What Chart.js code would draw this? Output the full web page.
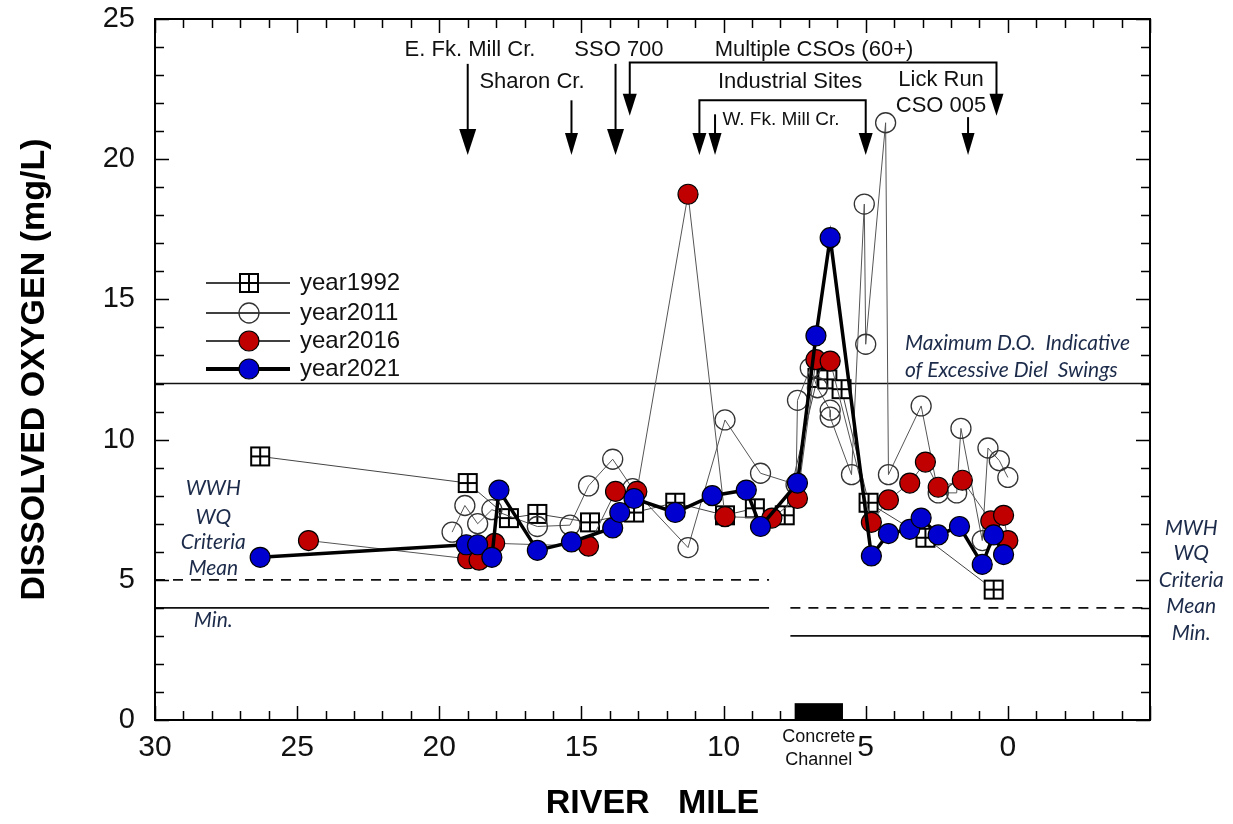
<!DOCTYPE html>
<html>
<head>
<meta charset="utf-8">
<script src="https://cdn.jsdelivr.net/npm/chart.js@4.4.0/dist/chart.umd.min.js"></script>
<style>
  html, body { margin: 0; padding: 0; background: #fff; }
  #wrap { width: 1233px; height: 824px; }
</style>
</head>
<body>
<div id="wrap"><canvas id="myChart" width="1233" height="824"></canvas></div>
<script>
// Pomiary tlenu rozpuszczonego wzdłuż rzeki (mila rzeczna, mg/L) dla każdego roku
const mile1992 = [26.3, 19.0, 17.55, 16.55, 14.7, 13.15, 11.7, 9.95, 8.9, 7.85, 6.7, 6.35, 5.85, 4.9, 2.9, 0.5];
const do1992   = [9.4, 8.45, 7.2, 7.35, 7.05, 7.4, 7.75, 7.3, 7.55, 7.3, 12.2, 12.15, 11.8, 7.75, 6.5, 4.65];

const mile2011 = [19.55, 19.1, 18.65, 18.15, 16.55, 15.4, 14.75, 13.9, 13.2, 11.25, 9.95, 8.7, 7.45, 7.4, 6.95, 6.7, 6.25, 6.25, 5.5, 5.05, 5.0, 4.3, 4.2, 3.05, 2.45, 1.8, 1.65, 0.9, 0.7, 0.3, 0.0];
const do2011   = [6.7, 7.65, 7.0, 7.5, 6.9, 6.95, 8.35, 9.3, 8.25, 6.15, 10.7, 8.8, 8.4, 11.4, 12.55, 11.85, 11.05, 10.8, 8.75, 18.4, 13.4, 21.3, 8.75, 11.2, 8.1, 8.1, 10.4, 6.4, 9.7, 9.25, 8.65];

const mile2016 = [24.6, 19.0, 18.6, 18.05, 14.75, 13.8, 13.05, 11.25, 9.95, 8.3, 7.4, 6.75, 6.25, 4.8, 4.2, 3.45, 2.9, 2.45, 1.6, 0.6, 0.15, 0.0];
const do2016   = [6.4, 5.75, 5.7, 6.3, 6.2, 8.15, 8.15, 18.75, 7.25, 7.2, 7.9, 12.85, 12.8, 7.05, 7.85, 8.45, 9.2, 8.3, 8.55, 7.1, 7.3, 6.4];

const mile2021 = [26.3, 19.05, 18.65, 18.15, 17.9, 16.55, 15.35, 13.9, 13.65, 13.15, 11.7, 10.4, 9.2, 8.7, 7.4, 6.75, 6.25, 4.8, 4.2, 3.45, 3.05, 2.45, 1.7, 0.9, 0.5, 0.15];
const do2021   = [5.8, 6.25, 6.25, 5.8, 8.2, 6.05, 6.35, 6.85, 7.4, 7.9, 7.4, 8.0, 8.2, 6.9, 8.45, 13.7, 17.2, 5.85, 6.65, 6.8, 7.2, 6.6, 6.9, 5.55, 6.6, 5.9];

// Zakresy osi
const xMin = -5, xMax = 30;
const yMin = 0, yMax = 25;

// Kryteria jakości wody (mg/L) i odcinki rzeki, których dotyczą
const maxDielDO = 12;
const wwhMeanDO = 5, wwhMinDO = 4;
const mwhMeanDO = 4, mwhMinDO = 3;
const wwhReach = [30, 8.4];
const mwhReach = [7.65, -5];

// Betonowy kanał (mile) i wysokość znacznika
const channelMiles = [7.5, 5.8];
const channelHeight = 0.6;

function toPoints(miles, values) {
    return miles.map((m, i) => ({ x: m, y: values[i] }));
}

// Kwadrat z krzyżykiem dla roku 1992
function makeCrossSquare() {
    const c = document.createElement('canvas');
    c.width = 22; c.height = 22;
    const g = c.getContext('2d');
    g.fillStyle = '#fff';
    g.fillRect(2, 2, 18, 18);
    g.strokeStyle = '#000';
    g.lineWidth = 2;
    g.strokeRect(2, 2, 18, 18);
    g.beginPath();
    g.moveTo(11, 2); g.lineTo(11, 20);
    g.moveTo(2, 11); g.lineTo(20, 11);
    g.stroke();
    return c;
}
const crossSquare = makeCrossSquare();

const textColor = '#111';
const noteColor = '#1c2b4a';
const noteFont = 'italic 21px Lato, "Liberation Sans", sans-serif';

// Dopływy i źródła zanieczyszczeń (strzałki nad wykresem)
const arrows = [
    { mile: 19.0, top: 23.4, tip: 20.15, big: true },
    { mile: 15.35, top: 22.1, tip: 20.15 },
    { mile: 13.8, top: 23.4, tip: 20.15, big: true },
    { mile: 10.3, top: 21.6, tip: 20.15 },
    { mile: 1.4, top: 21.5, tip: 20.15 }
];
const brackets = [
    { from: 13.3, to: 0.4, bar: 23.45, tip: 21.55 },
    { from: 10.85, to: 5.0, bar: 22.1, tip: 20.15 }
];
const siteLabels = [
    { text: 'E. Fk. Mill Cr.', mile: 18.92, y: 23.9, size: 22 },
    { text: 'SSO 700', mile: 13.68, y: 23.9, size: 22 },
    { text: 'Multiple CSOs (60+)', mile: 6.82, y: 23.9, size: 22 },
    { text: 'Sharon Cr.', mile: 16.74, y: 22.75, size: 22 },
    { text: 'Industrial Sites', mile: 7.66, y: 22.75, size: 22 },
    { text: 'Lick Run', mile: 2.35, y: 22.82, size: 22 },
    { text: 'CSO 005', mile: 2.35, y: 21.9, size: 22 },
    { text: 'W. Fk. Mill Cr.', mile: 7.98, y: 21.4, size: 19 }
];
const criteriaNotes = [
    { text: 'WWH', mile: 27.95, y: 8.27 },
    { text: 'WQ', mile: 27.95, y: 7.24 },
    { text: 'Criteria', mile: 27.95, y: 6.35 },
    { text: 'Mean', mile: 27.95, y: 5.42 },
    { text: 'Min.', mile: 27.95, y: 3.57 },
    { text: 'MWH', mile: -6.45, y: 6.85 },
    { text: 'WQ', mile: -6.45, y: 5.96 },
    { text: 'Criteria', mile: -6.45, y: 4.99 },
    { text: 'Mean', mile: -6.45, y: 4.07 },
    { text: 'Min.', mile: -6.45, y: 3.1 }
];

function hLine(ctx, x, y, m1, m2, value, dash) {
    const py = y.getPixelForValue(value);
    ctx.setLineDash(dash || []);
    ctx.beginPath();
    ctx.moveTo(x.getPixelForValue(m1), py);
    ctx.lineTo(x.getPixelForValue(m2), py);
    ctx.stroke();
    ctx.setLineDash([]);
}

function arrowHead(ctx, px, tipY, w, h) {
    ctx.beginPath();
    ctx.moveTo(px - w / 2, tipY - h);
    ctx.lineTo(px + w / 2, tipY - h);
    ctx.lineTo(px, tipY);
    ctx.closePath();
    ctx.fill();
}

function drawLegend(ctx, datasets) {
    const rows = [283, 313, 341, 369];
    ctx.font = '24px "Liberation Sans", Arial, sans-serif';
    ctx.textBaseline = 'middle';
    ctx.textAlign = 'left';
    datasets.forEach((ds, i) => {
        const yy = rows[i];
        ctx.strokeStyle = '#000';
        ctx.lineWidth = ds.label === 'year2021' ? 4 : 1.5;
        ctx.beginPath();
        ctx.moveTo(206, yy); ctx.lineTo(290, yy);
        ctx.stroke();
        if (ds.pointStyle === crossSquare) {
            ctx.drawImage(crossSquare, 249 - 11, yy - 11);
        } else {
            ctx.beginPath();
            ctx.arc(249, yy, 10, 0, Math.PI * 2);
            ctx.fillStyle = ds.pointBackgroundColor;
            ctx.fill();
            ctx.lineWidth = ds.pointBorderWidth;
            ctx.strokeStyle = ds.pointBorderColor;
            ctx.stroke();
        }
        ctx.fillStyle = textColor;
        ctx.fillText(ds.label, 300, yy);
    });
}

const riverPlugin = {
    id: 'riverAnnotations',
    beforeDatasetsDraw(chart) {
        const { ctx, scales: { x, y } } = chart;
        ctx.save();
        ctx.strokeStyle = '#111';
        ctx.lineWidth = 1.5;
        hLine(ctx, x, y, xMax, xMin, maxDielDO);
        ctx.lineWidth = 1.8;
        hLine(ctx, x, y, wwhReach[0], wwhReach[1], wwhMeanDO, [10, 8]);
        hLine(ctx, x, y, wwhReach[0], wwhReach[1], wwhMinDO);
        hLine(ctx, x, y, mwhReach[0], mwhReach[1], mwhMeanDO, [10, 8]);
        hLine(ctx, x, y, mwhReach[0], mwhReach[1], mwhMinDO);

        // Betonowy kanał
        ctx.fillStyle = '#000';
        const cx1 = x.getPixelForValue(channelMiles[0]);
        const cx2 = x.getPixelForValue(channelMiles[1]);
        const cy = y.getPixelForValue(channelHeight);
        ctx.fillRect(cx1, cy, cx2 - cx1, y.getPixelForValue(0) - cy);
        ctx.restore();
    },
    afterDraw(chart) {
        const { ctx, chartArea: area, scales: { x, y } } = chart;
        ctx.save();

        // Ramka i znaczniki osi skierowane do środka
        ctx.strokeStyle = '#000';
        ctx.lineWidth = 2;
        ctx.strokeRect(area.left, area.top, area.right - area.left, area.bottom - area.top);
        ctx.lineWidth = 1.5;
        ctx.beginPath();
        for (let v = yMin; v <= yMax; v++) {
            const py = Math.round(y.getPixelForValue(v)) + 0.5;
            const len = v % 5 === 0 ? 14 : 9;
            ctx.moveTo(area.left, py); ctx.lineTo(area.left + len, py);
            ctx.moveTo(area.right, py); ctx.lineTo(area.right - len, py);
        }
        for (let m = xMin; m <= xMax; m++) {
            const px = Math.round(x.getPixelForValue(m)) + 0.5;
            const len = m % 5 === 0 ? 14 : 9;
            ctx.moveTo(px, area.bottom); ctx.lineTo(px, area.bottom - len);
            ctx.moveTo(px, area.top); ctx.lineTo(px, area.top + len);
        }
        ctx.stroke();

        // Strzałki
        ctx.fillStyle = '#000';
        ctx.lineWidth = 2;
        arrows.forEach(a => {
            const px = x.getPixelForValue(a.mile);
            const tipY = y.getPixelForValue(a.tip);
            const h = a.big ? 26 : 22, w = a.big ? 17 : 13;
            ctx.beginPath();
            ctx.moveTo(px, y.getPixelForValue(a.top));
            ctx.lineTo(px, tipY - h + 2);
            ctx.stroke();
            arrowHead(ctx, px, tipY, w, h);
        });
        brackets.forEach(b => {
            const p1 = x.getPixelForValue(b.from), p2 = x.getPixelForValue(b.to);
            const barY = y.getPixelForValue(b.bar), tipY = y.getPixelForValue(b.tip);
            ctx.beginPath();
            ctx.moveTo(p1, tipY - 20);
            ctx.lineTo(p1, barY);
            ctx.lineTo(p2, barY);
            ctx.lineTo(p2, tipY - 20);
            ctx.stroke();
            arrowHead(ctx, p1, tipY, 14, 22);
            arrowHead(ctx, p2, tipY, 14, 22);
        });

        ctx.textAlign = 'center';
        ctx.textBaseline = 'middle';
        ctx.fillStyle = textColor;
        siteLabels.forEach(s => {
            ctx.font = s.size + 'px "Liberation Sans", Arial, sans-serif';
            ctx.fillText(s.text, x.getPixelForValue(s.mile), y.getPixelForValue(s.y));
        });

        // Opis betonowego kanału pod osią
        ctx.font = '18px "Liberation Sans", Arial, sans-serif';
        const chX = (x.getPixelForValue(channelMiles[0]) + x.getPixelForValue(channelMiles[1])) / 2;
        ctx.fillText('Concrete', chX, area.bottom + 17);
        ctx.fillText('Channel', chX, area.bottom + 40);

        // Kryteria WWH / MWH i próg dobowych wahań
        ctx.fillStyle = noteColor;
        ctx.font = noteFont;
        criteriaNotes.forEach(n => {
            ctx.fillText(n.text, x.getPixelForValue(n.mile), y.getPixelForValue(n.y));
        });
        ctx.textAlign = 'left';
        ctx.fillText('Maximum D.O.  Indicative', x.getPixelForValue(3.62), y.getPixelForValue(13.45));
        ctx.fillText('of Excessive Diel  Swings', x.getPixelForValue(3.62), y.getPixelForValue(12.48));

        drawLegend(ctx, chart.data.datasets);
        ctx.restore();
    }
};

const ctx = document.getElementById('myChart').getContext('2d');

const data = {
    datasets: [
        {
            label: 'year1992',
            data: toPoints(mile1992, do1992),
            showLine: true,
            borderColor: '#444',
            borderWidth: 1,
            pointStyle: crossSquare,
            pointRadius: 10,
            order: 4
        },
        {
            label: 'year2011',
            data: toPoints(mile2011, do2011),
            showLine: true,
            borderColor: '#555',
            borderWidth: 1,
            pointStyle: 'circle',
            pointRadius: 10,
            pointBackgroundColor: 'rgba(255,255,255,0)',
            pointBorderColor: '#333',
            pointBorderWidth: 1.3,
            order: 3
        },
        {
            label: 'year2016',
            data: toPoints(mile2016, do2016),
            showLine: true,
            borderColor: '#555',
            borderWidth: 1,
            pointStyle: 'circle',
            pointRadius: 10,
            pointBackgroundColor: '#c00000',
            pointBorderColor: '#000',
            pointBorderWidth: 1.2,
            order: 2
        },
        {
            label: 'year2021',
            data: toPoints(mile2021, do2021),
            showLine: true,
            borderColor: '#000',
            borderWidth: 3.5,
            pointStyle: 'circle',
            pointRadius: 10,
            pointBackgroundColor: '#0000d0',
            pointBorderColor: '#000',
            pointBorderWidth: 1.2,
            order: 1
        }
    ]
};

const options = {
    responsive: false,
    animation: false,
    events: [],
    layout: { padding: { top: 19, right: 83, left: 0, bottom: 0 } },
    elements: { line: { tension: 0 } },
    plugins: {
        legend: { display: false },
        tooltip: { enabled: false }
    },
    scales: {
        x: {
            type: 'linear',
            reverse: true,
            min: xMin,
            max: xMax,
            grid: { display: false },
            border: { display: false },
            ticks: {
                stepSize: 5,
                autoSkip: false,
                maxRotation: 0,
                padding: 2,
                color: textColor,
                font: { family: '"Liberation Sans", Arial, sans-serif', size: 30 },
                callback: v => (v < 0 ? '' : v)
            },
            title: {
                display: true,
                text: 'RIVER   MILE',
                color: '#000',
                padding: { top: 0, bottom: 0 },
                font: { family: '"Liberation Sans", Arial, sans-serif', size: 34, weight: 'bold' }
            },
            afterFit: scale => { scale.height = 104; }
        },
        y: {
            min: yMin,
            max: yMax,
            grid: { display: false },
            border: { display: false },
            ticks: {
                stepSize: 5,
                padding: 12,
                color: textColor,
                font: { family: '"Liberation Sans", Arial, sans-serif', size: 29 }
            },
            title: {
                display: true,
                text: 'DISSOLVED OXYGEN (mg/L)',
                color: '#000',
                padding: { top: 14, bottom: 0 },
                font: { family: '"Liberation Sans", Arial, sans-serif', size: 34, weight: 'bold' }
            },
            afterFit: scale => {
                // etykiety osi nie powinny przesuwać obszaru wykresu
                scale.width = 155;
                scale.paddingTop = 0;
                scale.paddingBottom = 0;
            }
        }
    }
};

const myChart = new Chart(ctx, {
    type: 'scatter',
    data: data,
    options: options,
    plugins: [riverPlugin]
});
</script>
</body>
</html>
